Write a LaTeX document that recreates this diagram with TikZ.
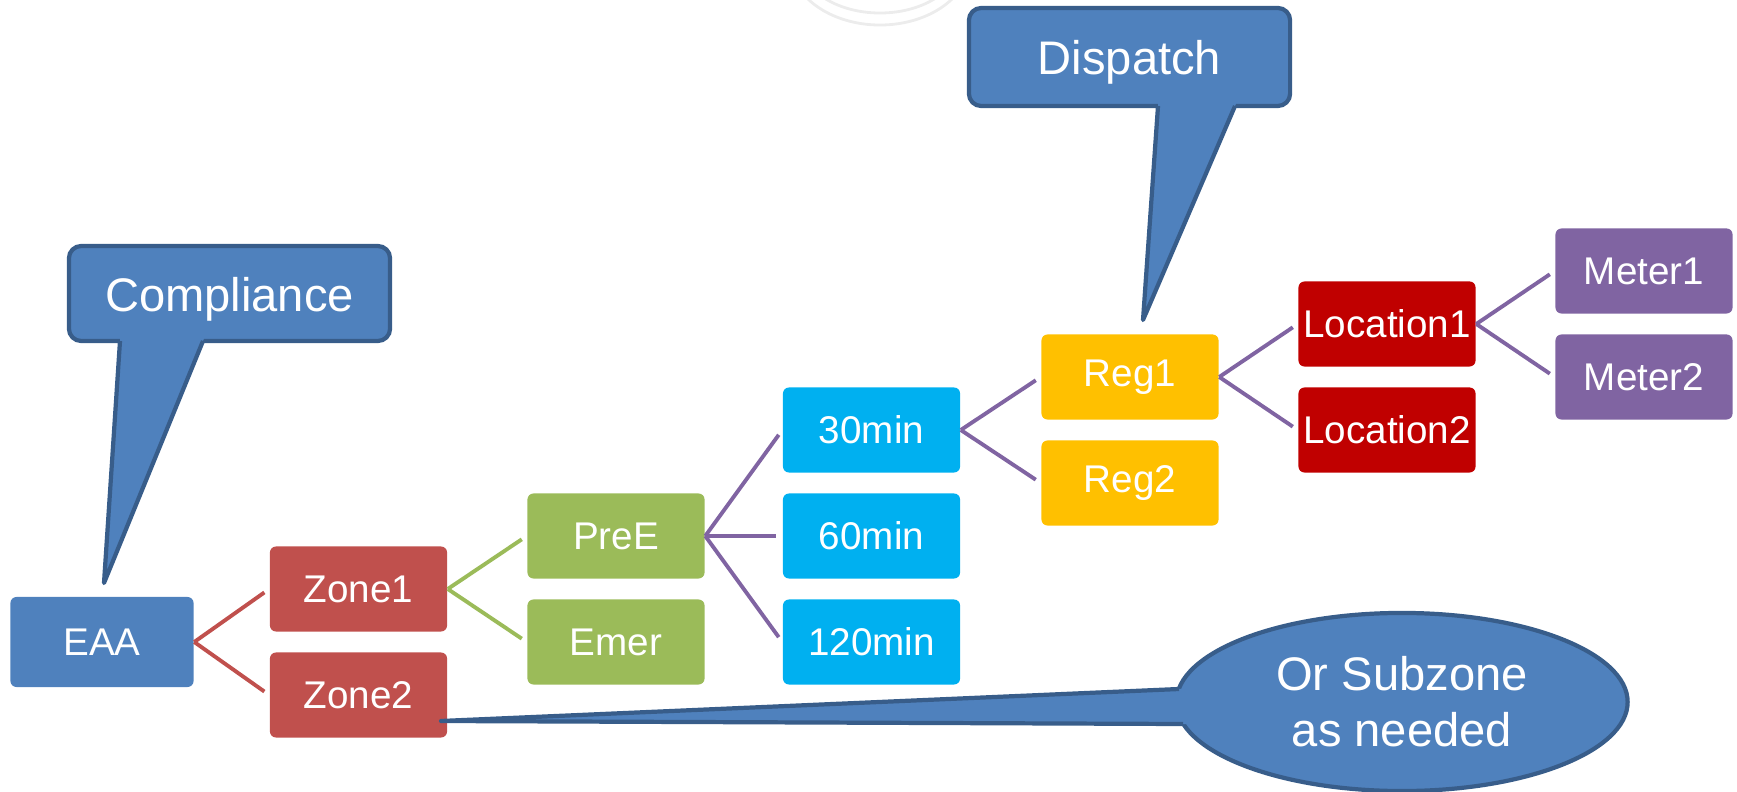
\documentclass[tikz,border=0pt]{standalone}
\usepackage{fontspec}
\setmainfont{Liberation Sans}
\usetikzlibrary{shapes.geometric}
\usetikzlibrary{calc}

\definecolor{eaablue}{HTML}{4F81BD}
\definecolor{calloutline}{HTML}{385D8A}
\definecolor{zonered}{HTML}{C0504D}
\definecolor{typegreen}{HTML}{9BBB59}
\definecolor{mincyan}{HTML}{00B0F0}
\definecolor{regyellow}{HTML}{FFC000}
\definecolor{locred}{HTML}{C00000}
\definecolor{meterpurple}{HTML}{8064A2}

\newcommand{\boxfont}{\fontsize{10.98}{13}\selectfont}
\newcommand{\callfont}{\fontsize{13.4}{15.9}\selectfont}

\begin{document}
\begin{tikzpicture}[x=0.01cm,y=-0.01cm,
    item/.style={rounded corners=1.7pt,inner sep=0pt,%
      minimum width=1.77cm,minimum height=0.85cm,text=white,font=\boxfont},
    link/.style={line width=1.1pt,shorten >=1.7pt},
    callbox/.style={fill=eaablue,draw=calloutline,line width=1.2pt,%
      rounded corners=3.5pt,inner sep=0pt,minimum width=3.21cm,%
      text height=12pt,text depth=2pt,%
      text=white,font=\callfont},
    callfill/.style={fill=eaablue},
    calledge/.style={draw=calloutline,line width=1.2pt,line join=round}]

      % ページ全体
      \useasboundingbox (0,0) rectangle (1737,792);

      % 上端のうすい円弧
      \begin{scope}
        \clip (0,0) rectangle (1737,792);
        \draw[gray!15,line width=0.8pt] (880,-40) ellipse [x radius=0.90cm,y radius=0.65cm];
        \draw[gray!15,line width=0.8pt] (880,-40) ellipse [x radius=0.80cm,y radius=0.53cm];
      \end{scope}

      % 階層
      \node[item,fill=eaablue,minimum width=1.83cm,minimum height=0.90cm] (eaa) at (102,642) {EAA};
      \node[item,fill=zonered] (zone1) at (358.5,589) {Zone1};
      \node[item,fill=zonered] (zone2) at (358.5,695) {Zone2};
      \node[item,fill=typegreen] (pree) at (616,536) {PreE};
      \node[item,fill=typegreen] (emer) at (616,642) {Emer};
      \node[item,fill=mincyan] (min30) at (871.5,430) {30min};
      \node[item,fill=mincyan] (min60) at (871.5,536) {60min};
      \node[item,fill=mincyan] (min120) at (871.5,642) {120min};
      \node[item,fill=regyellow] (reg1) at (1130,377) {Reg1};
      \node[item,fill=regyellow] (reg2) at (1130,483) {Reg2};
      \node[item,fill=locred] (loc1) at (1387,324) {Location1};
      \node[item,fill=locred] (loc2) at (1387,430) {Location2};
      \node[item,fill=meterpurple] (meter1) at (1644,271) {Meter1};
      \node[item,fill=meterpurple] (meter2) at (1644,377) {Meter2};

      % 接続線
      \foreach \a/\b in {eaa/zone1,eaa/zone2}
        \draw[link,zonered] (\a.east) -- (\b.west);
      \foreach \a/\b in {zone1/pree,zone1/emer}
        \draw[link,typegreen] (\a.east) -- (\b.west);
      \foreach \a/\b in {pree/min30,pree/min60,pree/min120,min30/reg1,min30/reg2,%
        reg1/loc1,reg1/loc2,loc1/meter1,loc1/meter2}
        \draw[link,meterpurple] (\a.east) -- (\b.west);

      % 吹き出し
      \node[callbox,minimum height=0.95cm] (comp) at (229.5,293.5) {Compliance};
      \coordinate (compL) at (120,341);
      \coordinate (compR) at (203,341);
      \coordinate (compTip) at (104,583);
      \fill[callfill] ($(compTip)!1.03!(compL)$) -- (compTip) -- ($(compTip)!1.03!(compR)$) -- cycle;
      \draw[calledge] (compL) -- (compTip) -- (compR);

      \node[callbox,minimum height=0.98cm] (disp) at (1129.5,57) {Dispatch};
      \coordinate (dispL) at (1158,106);
      \coordinate (dispR) at (1235,106);
      \coordinate (dispTip) at (1143,320);
      \fill[callfill] ($(dispTip)!1.03!(dispL)$) -- (dispTip) -- ($(dispTip)!1.03!(dispR)$) -- cycle;
      \draw[calledge] (dispL) -- (dispTip) -- (dispR);

      \node[ellipse,fill=eaablue,draw=calloutline,line width=1.2pt,inner sep=0pt,%
        minimum width=4.51cm,minimum height=1.78cm,%
        text=white,font=\callfont,align=center] (sub) at (1402,702) {Or Subzone\\as needed};
      \coordinate (subU) at (1179,689);
      \coordinate (subD) at (1183,724);
      \coordinate (subTip) at (441,721);
      \fill[callfill] ($(subTip)!1.01!(subU)$) -- (subTip) -- ($(subTip)!1.01!(subD)$) -- cycle;
      \draw[calledge] (subU) -- (subTip) -- (subD);
\end{tikzpicture}
\end{document}
